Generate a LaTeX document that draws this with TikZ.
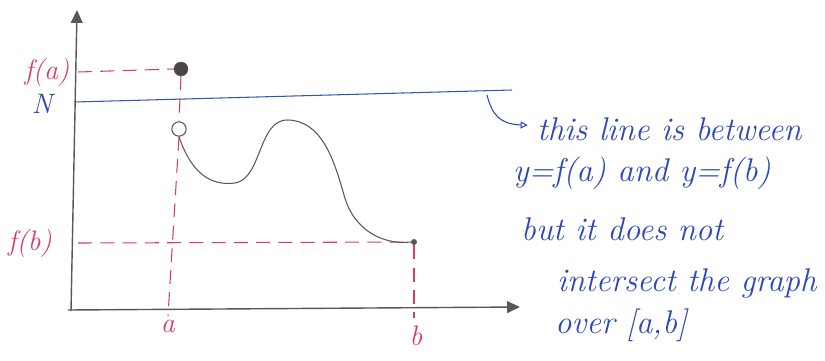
\documentclass[tikz,border=0pt]{standalone}
\usetikzlibrary{arrows.meta}
\definecolor{pinkred}{RGB}{214,60,105}
\definecolor{inkblue}{RGB}{45,70,185}
\definecolor{linblue}{RGB}{55,85,175}
\definecolor{pencil}{RGB}{88,88,88}
\begin{document}
\begin{tikzpicture}[x=0.03cm,y=-0.03cm,
  axis/.style={pencil,line width=1.2pt,-{Triangle[length=11pt,width=10pt]}},
  guide/.style={pinkred,line width=0.9pt,dash pattern=on 12pt off 7pt},
  graphline/.style={pencil,line width=0.9pt},
  lbl/.style={font=\fontsize{24}{24}\selectfont\itshape,inner sep=0pt},
  note/.style={inkblue,font=\fontsize{28}{28}\selectfont\itshape,inner sep=0pt,anchor=base west}]
\useasboundingbox (0,0) rectangle (825,360);
% axes
\coordinate (ybot) at (71,311);
\coordinate (ytip) at (77,10);
\coordinate (xleft) at (68,310);
\coordinate (xtip) at (520,307);
\draw[axis] (ybot) -- (ytip);
\draw[axis] (xleft) -- (xtip);
% points
\node[circle,fill=pencil!80!black,draw=pencil,inner sep=0pt,minimum size=4.2mm] (fadot) at (181,69) {};
\node[circle,draw=pencil,line width=0.9pt,fill=white,inner sep=0pt,minimum width=3.9mm,minimum height=4.3mm] (open) at (179,129) {};
\node[circle,fill=pencil,inner sep=0pt,minimum size=1.8mm] (bdot) at (414,242) {};
% guide coordinates
\coordinate (faleft) at (78,72);
\coordinate (fbleft) at (78,243);
\coordinate (abot) at (168,316);
\coordinate (bbot) at (414,318);
\coordinate (Nleft) at (75,102);
\coordinate (Nright) at (512,90);
% dashed guides
\draw[guide] (faleft) -- (fadot.west);
\draw[guide] (fadot.south) -- (open.north);
\draw[guide] (open.south) -- (abot);
\draw[guide] (fbleft) -- (bdot);
\draw[guide] (bdot) -- (bbot);
% N line
\draw[linblue,line width=0.9pt] (Nleft) -- (Nright);
% graph
\draw[graphline] (open.south) .. controls (192,175) and (212,186) .. (235,183)
  .. controls (262,179) and (258,119) .. (288,120)
  .. controls (322,121) and (334,160) .. (344,195)
  .. controls (354,232) and (385,245) .. (bdot.west);
% labels
\node[lbl,pinkred] (fa) at (47,72) {f(a)};
\node[lbl,inkblue] (N) at (42,104) {N};
\node[lbl,pinkred] (fb) at (30,243) {f(b)};
\node[lbl,pinkred] (la) at (168,326) {a};
\node[lbl,pinkred] (lb) at (416,336) {b};
% callout
\coordinate (cstart) at (487,95);
\node[note] (n1) at (537,140) {this line is between};
\node[note] (n2) at (513,181) {y=f(a) and y=f(b)};
\node[note] (n3) at (521,240) {but it does not};
\node[note] (n4) at (557,291) {intersect the graph};
\node[note] (n5) at (555,333) {over [a,b]};
\draw[inkblue,line width=0.9pt,-{Triangle[open,length=6pt,width=6pt]}] (cstart) .. controls (492,115) and (500,124) .. ([xshift=-8pt,yshift=3pt]n1.west);
\end{tikzpicture}
\end{document}
